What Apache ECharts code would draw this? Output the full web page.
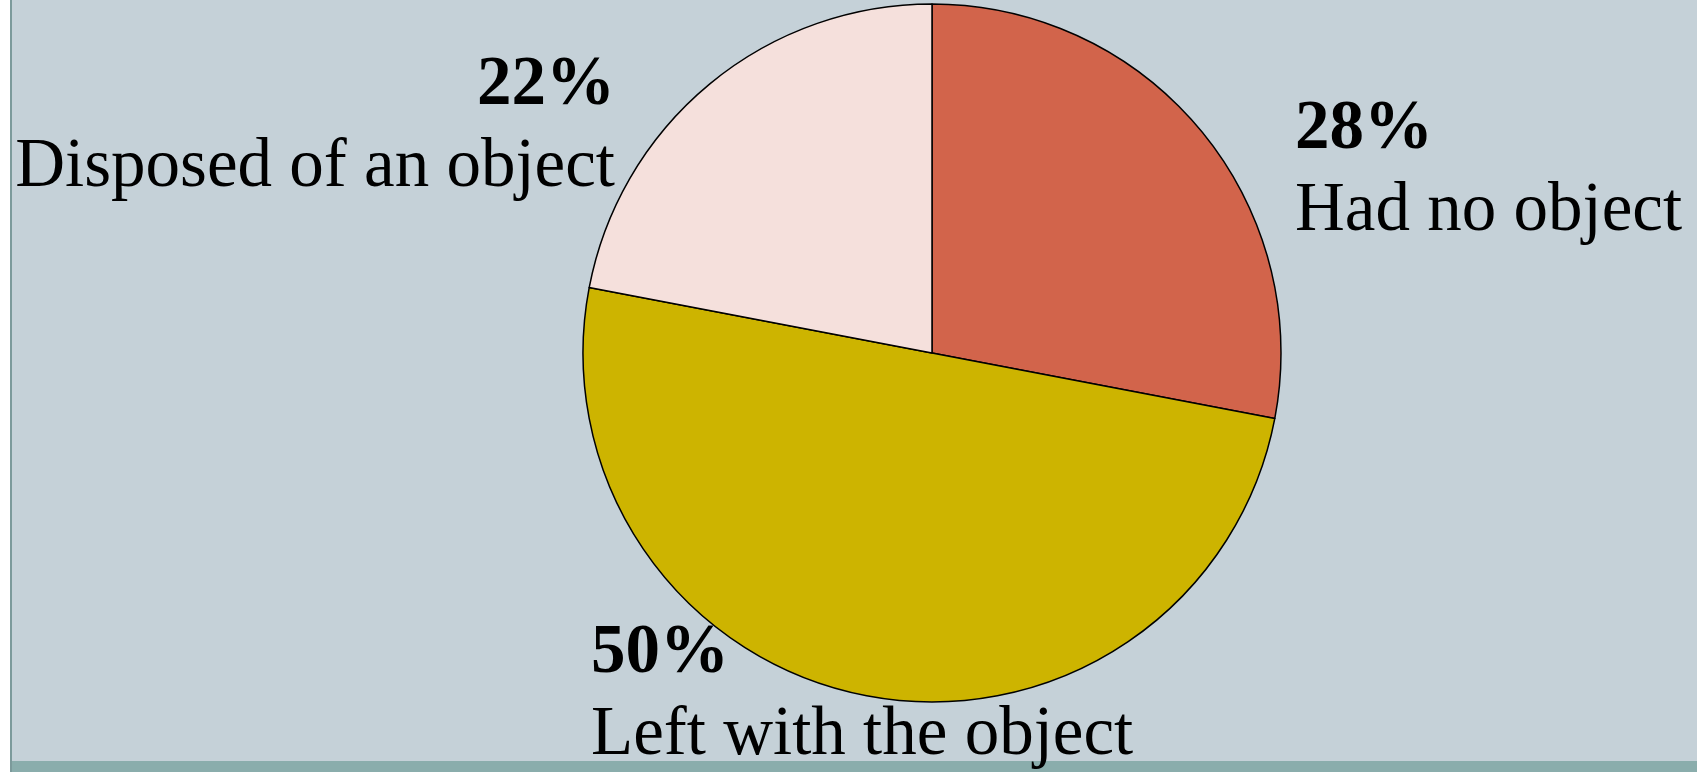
<!DOCTYPE html>
<html>
<head>
<meta charset="utf-8">
<script src="https://cdn.jsdelivr.net/npm/echarts@6/dist/echarts.min.js"></script>
<style>
html,body{margin:0;padding:0;background:#ffffff;width:1697px;height:772px;overflow:hidden;}
#panel{position:absolute;left:10px;top:0;width:1687px;height:772px;background:#C5D1D8;border-left:2px solid #7C9A9B;box-sizing:border-box;}
#band{position:absolute;left:12px;top:761px;width:1685px;height:11px;background:#8AADAC;}
#chart{position:absolute;left:0;top:0;width:1697px;height:772px;}
</style>
</head>
<body>
<div id="panel"></div>
<div id="band"></div>
<div id="chart"></div>
<script>
var categories = ['Had no object', 'Left with the object', 'Disposed of an object'];
var values = [28, 50, 22];
var colors = ['#D2644B', '#CDB400', '#F5E0DC'];

var labelPos = [
  {x: 1295, y: 90, align: 'left'},
  {x: 591, y: 614, align: 'left'},
  {x: 615, y: 46, align: 'right'}
];

var chart = echarts.init(document.getElementById('chart'));
chart.setOption({
  backgroundColor: 'transparent',
  animation: false,
  series: [{
    type: 'pie',
    center: [932, 353],
    radius: [0, 349],
    startAngle: 90,
    clockwise: true,
    silent: true,
    data: categories.map(function (c, i) {
      return {name: c, value: values[i], itemStyle: {color: colors[i]}};
    }),
    itemStyle: {borderColor: '#000000', borderWidth: 1.5},
    labelLine: {show: false},
    label: {
      show: true,
      position: 'outside',
      formatter: function (p) { return '{p|' + p.value + '%}\n{n|' + p.name + '}'; },
      rich: {
        p: {fontFamily: '"Liberation Serif", "Times New Roman", serif', fontWeight: 'bold', fontSize: 69, lineHeight: 81, color: '#000'},
        n: {fontFamily: '"Liberation Serif", "Times New Roman", serif', fontSize: 69, lineHeight: 81, color: '#000'}
      }
    },
    labelLayout: function (params) {
      var lp = labelPos[params.dataIndex];
      return {x: lp.x, y: lp.y, align: lp.align, verticalAlign: 'top', hideOverlap: false, moveOverlap: false};
    }
  }]
});
</script>
</body>
</html>
